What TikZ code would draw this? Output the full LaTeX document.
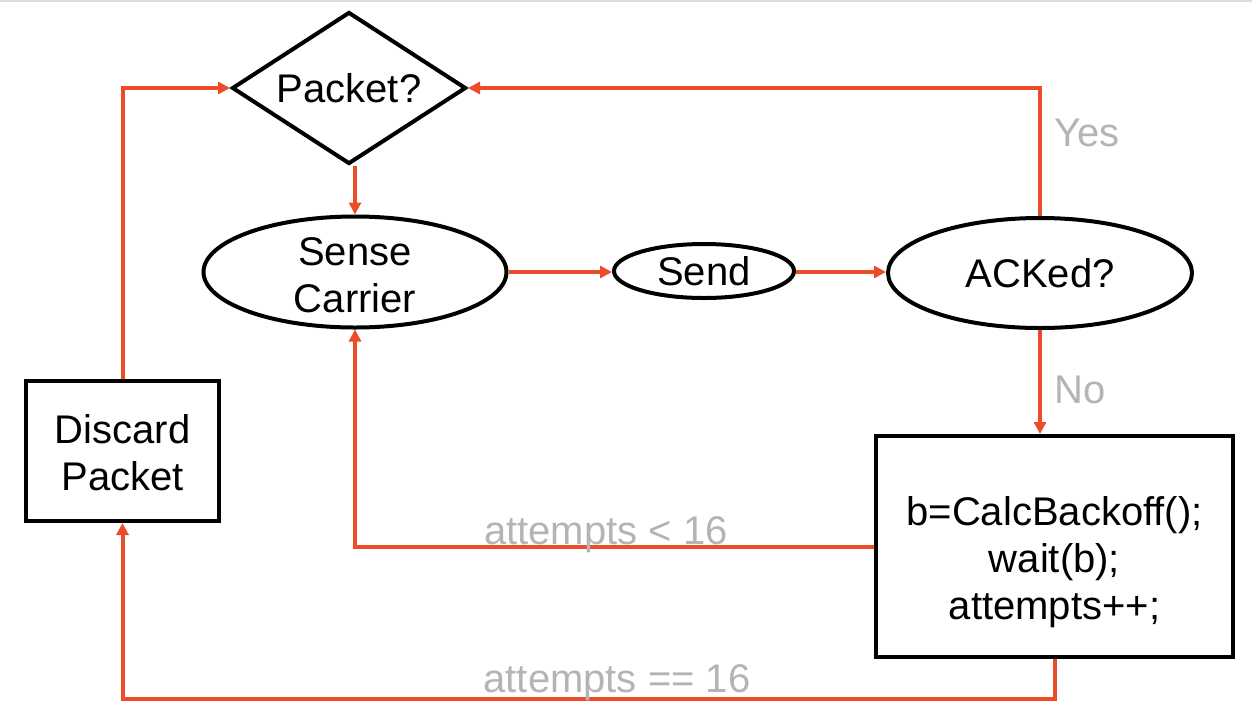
\documentclass[tikz,border=0pt]{standalone}
\usepackage{fontspec}
\setmainfont{Liberation Sans}
\usetikzlibrary{shapes.geometric,arrows.meta}
\definecolor{flow}{RGB}{236,76,40}
\definecolor{lbl}{RGB}{180,180,180}
\newcommand{\stacktext}[2]{\raisebox{#1}[0pt][0pt]{\begin{tabular}{@{}c@{}}#2\end{tabular}}}
\tikzset{
  base/.style={draw=black,line width=2pt,fill=white,inner sep=0pt,align=center,
    font=\fontsize{20}{23.5}\selectfont},
  decision/.style={base,diamond,aspect=1.54,minimum width=117pt,minimum height=76pt},
  oval/.style={base,ellipse},
  procbox/.style={base,rectangle},
  conn/.style={draw=flow,line width=2pt,-{Triangle[length=6pt,width=6pt]}},
  note/.style={text=lbl,inner sep=0pt,font=\fontsize{20}{23}\selectfont}
}
\begin{document}
\begin{tikzpicture}[x=0.5pt,y=-0.5pt]
\path[use as bounding box] (0,0) rectangle (1252,724);
\draw[draw={rgb,255:red,220;green,220;blue,220},line width=1pt] (0,1) -- (1252,1);
% nodes
\node[decision] (packet) at (349,88) {Packet?};
\node[oval,minimum width=151.5pt,minimum height=55.5pt] (sense) at (355,272) {\stacktext{-9pt}{Sense\\Carrier}};
\node[oval,minimum width=90pt,minimum height=27pt] (send) at (704,271) {Send};
\node[oval,minimum width=152pt,minimum height=55pt] (acked) at (1040,273) {ACKed?};
\node[procbox,minimum width=178.5pt,minimum height=110.5pt] (backoff) at (1054.5,546.5) {\stacktext{-13.25pt}{b=CalcBackoff();\\wait(b);\\attempts++;}};
\node[procbox,minimum width=96.5pt,minimum height=70pt] (discard) at (122.5,451) {\stacktext{-8.5pt}{Discard\\Packet}};
% connectors
\draw[conn] (discard.north) |- (packet.west);
\draw[conn] (acked.north) |- (packet.east);
\draw[conn] (packet.south -| sense.north) -- (sense.north);
\draw[conn] (sense.east) -- (sense.east -| send.west);
\draw[conn] (send.east |- sense.east) -- (acked.west |- sense.east);
\draw[conn] (acked.south) -- (acked.south |- backoff.north);
\draw[conn] (backoff.west) -| (sense.south);
\draw[conn] (backoff.south) -- ++(0,40) -| (discard.south);
% labels
\node[note,anchor=west] (yes) at (1054,133) {Yes};
\node[note,anchor=west] (no) at (1054,390) {No};
\node[note,anchor=base] (lt) at (606,544) {attempts < 16};
\node[note,anchor=base] (eq) at (617,692) {attempts == 16};
\end{tikzpicture}
\end{document}
